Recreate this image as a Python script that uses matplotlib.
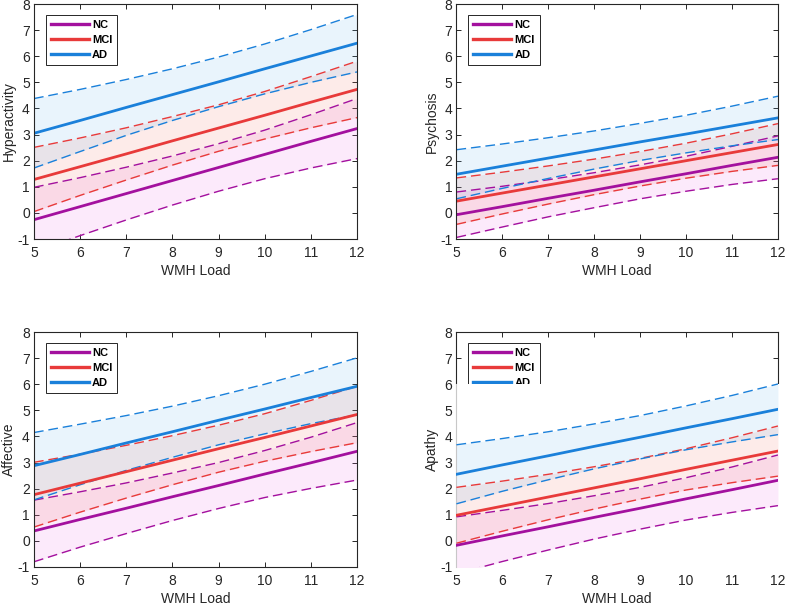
# WMH負荷と各症状スコアの回帰直線 + 95%信頼区間 (4パネル)
import matplotlib
matplotlib.use("Agg")
import matplotlib.pyplot as plt
from matplotlib.patches import Rectangle

plt.rcParams['font.family'] = ['Liberation Sans', 'DejaVu Sans']
plt.rcParams['axes.unicode_minus'] = False  # 元図は "-1" (ハイフン)

WMH_LOAD = [5, 6, 7, 8, 9, 10, 11, 12]
GROUPS = ["NC", "MCI", "AD"]
SCORES = ["Hyperactivity", "Psychosis", "Affective", "Apathy"]
X_TICKS = [5, 6, 7, 8, 9, 10, 11, 12]
Y_TICKS = [-1, 0, 1, 2, 3, 4, 5, 6, 7, 8]

# Hyperactivity
HYP_NC_FIT = [-0.26, 0.24, 0.74, 1.24, 1.74, 2.24, 2.74, 3.23]
HYP_NC_LO = [-1.50, -0.87, -0.27, 0.30, 0.83, 1.31, 1.72, 2.08]
HYP_NC_HI = [0.98, 1.35, 1.75, 2.18, 2.65, 3.17, 3.76, 4.38]
HYP_MCI_FIT = [1.28, 1.77, 2.26, 2.76, 3.25, 3.74, 4.24, 4.73]
HYP_MCI_LO = [0.05, 0.67, 1.26, 1.83, 2.36, 2.83, 3.26, 3.65]
HYP_MCI_HI = [2.51, 2.87, 3.26, 3.69, 4.14, 4.65, 5.22, 5.81]
HYP_AD_FIT = [3.05, 3.54, 4.04, 4.53, 5.02, 5.52, 6.01, 6.50]
HYP_AD_LO = [1.72, 2.35, 2.97, 3.54, 4.07, 4.56, 5.00, 5.40]
HYP_AD_HI = [4.38, 4.73, 5.11, 5.52, 5.97, 6.47, 7.02, 7.60]

# Psychosis
PSY_NC_FIT = [-0.07, 0.24, 0.56, 0.87, 1.19, 1.50, 1.82, 2.13]
PSY_NC_LO = [-0.94, -0.54, -0.15, 0.20, 0.54, 0.83, 1.09, 1.31]
PSY_NC_HI = [0.80, 1.02, 1.27, 1.54, 1.84, 2.17, 2.55, 2.95]
PSY_MCI_FIT = [0.45, 0.76, 1.07, 1.38, 1.69, 2.00, 2.31, 2.62]
PSY_MCI_LO = [-0.44, -0.04, 0.34, 0.70, 1.03, 1.33, 1.59, 1.82]
PSY_MCI_HI = [1.34, 1.56, 1.80, 2.06, 2.35, 2.67, 3.03, 3.42]
PSY_AD_FIT = [1.48, 1.79, 2.10, 2.41, 2.72, 3.02, 3.33, 3.64]
PSY_AD_LO = [0.54, 0.94, 1.32, 1.68, 2.01, 2.30, 2.57, 2.81]
PSY_AD_HI = [2.42, 2.64, 2.88, 3.14, 3.43, 3.74, 4.09, 4.47]

# Affective
AFF_NC_FIT = [0.38, 0.82, 1.25, 1.69, 2.12, 2.56, 2.99, 3.43]
AFF_NC_LO = [-0.80, -0.24, 0.28, 0.78, 1.24, 1.66, 2.01, 2.33]
AFF_NC_HI = [1.56, 1.88, 2.22, 2.60, 3.00, 3.46, 3.97, 4.53]
AFF_MCI_FIT = [1.77, 2.21, 2.65, 3.09, 3.53, 3.96, 4.40, 4.84]
AFF_MCI_LO = [0.53, 1.10, 1.64, 2.15, 2.63, 3.05, 3.42, 3.76]
AFF_MCI_HI = [3.01, 3.32, 3.66, 4.03, 4.43, 4.87, 5.38, 5.92]
AFF_AD_FIT = [2.88, 3.31, 3.75, 4.18, 4.62, 5.05, 5.49, 5.92]
AFF_AD_LO = [1.57, 2.15, 2.70, 3.20, 3.68, 4.10, 4.49, 4.83]
AFF_AD_HI = [4.15, 4.47, 4.80, 5.16, 5.56, 6.00, 6.49, 7.01]

# Apathy
APA_NC_FIT = [-0.17, 0.19, 0.54, 0.90, 1.25, 1.61, 1.96, 2.32]
APA_NC_LO = [-1.26, -0.79, -0.35, 0.07, 0.45, 0.80, 1.09, 1.35]
APA_NC_HI = [0.92, 1.17, 1.43, 1.73, 2.05, 2.42, 2.83, 3.29]
APA_MCI_FIT = [0.98, 1.33, 1.68, 2.03, 2.38, 2.74, 3.09, 3.44]
APA_MCI_LO = [-0.09, 0.37, 0.81, 1.22, 1.60, 1.95, 2.23, 2.48]
APA_MCI_HI = [2.05, 2.29, 2.55, 2.84, 3.16, 3.53, 3.95, 4.40]
APA_AD_FIT = [2.55, 2.91, 3.26, 3.62, 3.97, 4.33, 4.68, 5.04]
APA_AD_LO = [1.42, 1.90, 2.34, 2.76, 3.14, 3.49, 3.79, 4.07]
APA_AD_HI = [3.68, 3.92, 4.18, 4.48, 4.80, 5.17, 5.57, 6.01]

LINE_COLORS = {"NC": "#a3109e", "MCI": "#e83a3a", "AD": "#1a80da"}
FILL_COLORS = {"NC": "#f06ee6", "MCI": "#f2726a", "AD": "#6ab4f0"}
AXIS_COLOR = "#262626"

PANEL_DATA = {
    "Hyperactivity": {"NC": (HYP_NC_FIT, HYP_NC_LO, HYP_NC_HI),
                      "MCI": (HYP_MCI_FIT, HYP_MCI_LO, HYP_MCI_HI),
                      "AD": (HYP_AD_FIT, HYP_AD_LO, HYP_AD_HI)},
    "Psychosis": {"NC": (PSY_NC_FIT, PSY_NC_LO, PSY_NC_HI),
                  "MCI": (PSY_MCI_FIT, PSY_MCI_LO, PSY_MCI_HI),
                  "AD": (PSY_AD_FIT, PSY_AD_LO, PSY_AD_HI)},
    "Affective": {"NC": (AFF_NC_FIT, AFF_NC_LO, AFF_NC_HI),
                  "MCI": (AFF_MCI_FIT, AFF_MCI_LO, AFF_MCI_HI),
                  "AD": (AFF_AD_FIT, AFF_AD_LO, AFF_AD_HI)},
    "Apathy": {"NC": (APA_NC_FIT, APA_NC_LO, APA_NC_HI),
               "MCI": (APA_MCI_FIT, APA_MCI_LO, APA_MCI_HI),
               "AD": (APA_AD_FIT, APA_AD_LO, APA_AD_HI)},
}

# 各パネルの位置 (figure座標: left, bottom, width, height)
AXES_RECTS = [
    [0.0432, 0.6043, 0.4104, 0.389],
    [0.580, 0.6043, 0.4085, 0.389],
    [0.0432, 0.0613, 0.4104, 0.389],
    [0.580, 0.0613, 0.4085, 0.389],
]


def DrawPanel(ax, score, coverBottom=False):
    data = PANEL_DATA[score]
    baseZ = 6 if coverBottom else 2
    handles = []
    for g in GROUPS:
        fit, lo, hi = data[g]
        ax.fill_between(WMH_LOAD, lo, hi, color=FILL_COLORS[g], alpha=0.14,
                        linewidth=0, zorder=baseZ)
    for g in GROUPS:
        fit, lo, hi = data[g]
        for band in (lo, hi):
            ax.plot(WMH_LOAD, band, color=LINE_COLORS[g], linewidth=1.0,
                    dashes=(7, 3.5), zorder=baseZ + 0.1)
        h, = ax.plot(WMH_LOAD, fit, color=LINE_COLORS[g], linewidth=2.0,
                     zorder=baseZ + 0.2, label=g)
        handles.append(h)

    ax.set_xlim(5, 12)
    ax.set_ylim(-1, 8)
    ax.set_xticks(X_TICKS)
    ax.set_yticks(Y_TICKS)
    ax.tick_params(direction="in", top=True, right=True, length=3.5, width=0.7,
                   labelsize=10, colors=AXIS_COLOR)
    ax.tick_params(axis="x", pad=5)
    ax.tick_params(axis="y", pad=3)
    for s in ax.spines.values():
        s.set_color(AXIS_COLOR)
        s.set_linewidth(0.8)
    ax.set_xlabel("WMH Load", fontsize=10, color=AXIS_COLOR, labelpad=3)
    ax.set_ylabel(score, fontsize=10, color=AXIS_COLOR, labelpad=1)

    leg = ax.legend(handles=handles, loc="upper left", bbox_to_anchor=(0.037, 0.953),
                    borderaxespad=0, fancybox=False, framealpha=1, edgecolor=AXIS_COLOR,
                    prop={"size": 8, "weight": "bold"}, handlelength=3.4,
                    handletextpad=0.3, labelspacing=0.45, borderpad=0.45)
    leg.get_frame().set_linewidth(0.7)
    for line in leg.get_lines():
        line.set_linewidth(2.4)

    if coverBottom:
        # 元図では y<6 の領域が白く塗りつぶされ、凡例の下部と枠線が隠れている
        ax.add_patch(Rectangle((4.93, -1.15), 7.14, 7.15, facecolor="white",
                               edgecolor="none", zorder=5.5, clip_on=False))
        ax.plot([5, 5], [-1, 6], color="#c8c8c8", linewidth=0.8, zorder=5.6, clip_on=False)


def main():
    fig = plt.figure(figsize=(7.87, 6.04), dpi=100)
    for i, score in enumerate(SCORES):
        ax = fig.add_axes(AXES_RECTS[i])
        DrawPanel(ax, score, coverBottom=(score == "Apathy"))
    fig.savefig("out.png", dpi=100)


if __name__ == "__main__":
    main()
